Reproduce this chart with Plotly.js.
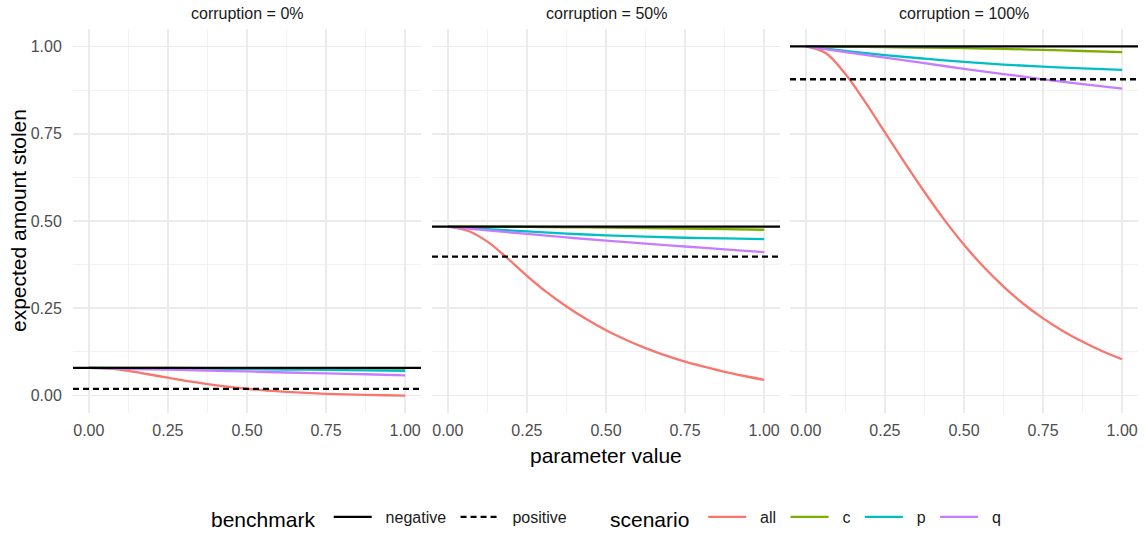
<!DOCTYPE html>
<html>
<head>
<meta charset="utf-8">
<script src="https://cdn.plot.ly/plotly-3.0.1.min.js"></script>
<style>html,body{margin:0;padding:0;background:#fff;}#chart{width:1145px;height:534px;}</style>
</head>
<body>
<div id="chart"></div>
<script>
// ---- data ----
const panels = ["corruption = 0%", "corruption = 50%", "corruption = 100%"];
const xCoarse = [0, 0.125, 0.25, 0.375, 0.5, 0.625, 0.75, 0.875, 1];
const xFine = [0, 0.0625, 0.125, 0.1875, 0.25, 0.3125, 0.375, 0.4375, 0.5, 0.5625, 0.625, 0.6875, 0.75, 0.8125, 0.875, 0.9375, 1];
const xRange = [-0.05, 1.05];

const negative = [0.079, 0.484, 1.0];
const positive = [0.019, 0.398, 0.906];

const all0   = [0.079, 0.077, 0.0705, 0.061, 0.051, 0.0415, 0.033, 0.0257, 0.0195, 0.0145, 0.0105, 0.0074, 0.005, 0.0033, 0.002, 0.0009, 0.0];
const all50  = [0.484, 0.472, 0.441, 0.394, 0.343, 0.296, 0.255, 0.219, 0.187, 0.160, 0.136, 0.115, 0.097, 0.082, 0.068, 0.056, 0.045];
const all100 = [1.0, 0.981, 0.921, 0.841, 0.754, 0.667, 0.583, 0.504, 0.432, 0.368, 0.312, 0.263, 0.221, 0.185, 0.154, 0.127, 0.104];

const c0   = [0.079, 0.079, 0.079, 0.0788, 0.0785, 0.0783, 0.078, 0.0778, 0.0775];
const c50  = [0.484, 0.484, 0.483, 0.482, 0.481, 0.480, 0.478, 0.477, 0.475];
const c100 = [1.0, 0.999, 0.998, 0.997, 0.995, 0.993, 0.990, 0.987, 0.984];

const p0   = [0.079, 0.0785, 0.078, 0.077, 0.0758, 0.0746, 0.0734, 0.0722, 0.071];
const p50  = [0.484, 0.477, 0.470, 0.464, 0.459, 0.455, 0.452, 0.450, 0.448];
const p100 = [1.0, 0.987, 0.975, 0.965, 0.956, 0.948, 0.942, 0.937, 0.933];

const q0   = [0.079, 0.0765, 0.074, 0.0715, 0.069, 0.066, 0.0635, 0.061, 0.058];
const q50  = [0.484, 0.473, 0.463, 0.453, 0.444, 0.435, 0.427, 0.419, 0.411];
const q100 = [1.0, 0.984, 0.968, 0.952, 0.936, 0.921, 0.906, 0.892, 0.879];

const xTickVals = [0, 0.25, 0.5, 0.75, 1];
const xTickText = ["0.00", "0.25", "0.50", "0.75", "1.00"];
const yTickVals = [0, 0.25, 0.5, 0.75, 1];
const yTickText = ["0.00", "0.25", "0.50", "0.75", "1.00"];

// ---- styling ----
const FONT = "Liberation Sans, Arial, Helvetica, sans-serif";
const colors = {all: "#F8766D", c: "#7CAE00", p: "#00BFC4", q: "#C77CFF"};
const scen = {
  all: {x: xFine, ys: [all0, all50, all100]},
  c: {x: xCoarse, ys: [c0, c50, c100]},
  p: {x: xCoarse, ys: [p0, p50, p100]},
  q: {x: xCoarse, ys: [q0, q50, q100]}
};
const NB = "\u00A0";

const W = 1145, H = 534;
const xDomPx = [[73, 421], [432, 780], [790, 1138]];
const yDomPx = [29, 413];

const traces = [];
for (let i = 0; i < 3; i++) {
  const xa = i === 0 ? "x" : "x" + (i + 1);
  const ya = i === 0 ? "y" : "y" + (i + 1);
  for (const k of ["all", "c", "p", "q"]) {
    traces.push({
      type: "scatter", mode: "lines", x: scen[k].x, y: scen[k].ys[i],
      xaxis: xa, yaxis: ya, name: NB + NB + k + NB, legend: "legend2", legendgroup: k,
      showlegend: i === 0, line: {color: colors[k], width: 2.3, shape: "spline", smoothing: 1},
      hoverinfo: "skip"
    });
  }
  traces.push({
    type: "scatter", mode: "lines", x: xRange, y: [negative[i], negative[i]],
    xaxis: xa, yaxis: ya, name: NB + NB + "negative" + NB, legend: "legend", legendgroup: "negative",
    showlegend: i === 0, line: {color: "#000000", width: 2.3}, hoverinfo: "skip"
  });
  traces.push({
    type: "scatter", mode: "lines", x: xRange, y: [positive[i], positive[i]],
    xaxis: xa, yaxis: ya, name: NB + NB + "positive" + NB, legend: "legend", legendgroup: "positive",
    showlegend: i === 0, line: {color: "#000000", width: 2.3, dash: "6px,4px"}, hoverinfo: "skip"
  });
}

const legendCommon = {
  orientation: "h", xanchor: "left", y: 1 - 519 / H, yanchor: "middle", itemwidth: 38,
  font: {size: 16, color: "#1A1A1A", family: FONT}, bgcolor: "rgba(0,0,0,0)", traceorder: "normal"
};

const layout = {
  width: W, height: H,
  margin: {l: 0, r: 0, t: 0, b: 0, autoexpand: false},
  paper_bgcolor: "#ffffff", plot_bgcolor: "#ffffff",
  font: {family: FONT, color: "#4D4D4D", size: 16},
  showlegend: true,
  legend: Object.assign({}, legendCommon, {
    x: 209 / W,
    title: {text: "benchmark" + NB, side: "left", font: {size: 21, color: "#000000", family: FONT}}
  }),
  legend2: Object.assign({}, legendCommon, {
    x: 608 / W,
    title: {text: "scenario" + NB, side: "left", font: {size: 21, color: "#000000", family: FONT}}
  }),
  annotations: [],
  hovermode: false
};

for (let i = 0; i < 3; i++) {
  const sfx = i === 0 ? "" : String(i + 1);
  layout["xaxis" + sfx] = {
    domain: [xDomPx[i][0] / W, xDomPx[i][1] / W], range: xRange, anchor: "y" + sfx,
    tickvals: xTickVals, ticktext: xTickText, ticks: "outside", ticklen: 3, tickcolor: "rgba(0,0,0,0)",
    showgrid: true, gridcolor: "#EBEBEB", gridwidth: 1.8, zeroline: false, showline: false,
    minor: {dtick: 0.125, tick0: 0.125, showgrid: true, gridcolor: "#F2F2F2", gridwidth: 1.1, ticks: ""},
    tickfont: {size: 16, color: "#4D4D4D", family: FONT}, fixedrange: true
  };
  layout["yaxis" + sfx] = {
    domain: [1 - yDomPx[1] / H, 1 - yDomPx[0] / H], range: [-0.05, 1.05], anchor: "x" + sfx,
    tickvals: yTickVals, ticktext: yTickText, ticks: i === 0 ? "outside" : "", ticklen: 7, tickcolor: "rgba(0,0,0,0)",
    showticklabels: i === 0,
    showgrid: true, gridcolor: "#EBEBEB", gridwidth: 1.8, zeroline: false, showline: false,
    minor: {dtick: 0.125, tick0: 0.125, showgrid: true, gridcolor: "#F2F2F2", gridwidth: 1.1, ticks: ""},
    tickfont: {size: 16, color: "#4D4D4D", family: FONT}, fixedrange: true
  };
  layout.annotations.push({
    text: panels[i], xref: "paper", yref: "paper",
    x: (xDomPx[i][0] + xDomPx[i][1]) / 2 / W, y: 1 - 14 / H, xanchor: "center", yanchor: "middle",
    showarrow: false, font: {size: 16, color: "#1A1A1A", family: FONT}
  });
}
layout.annotations.push({
  text: "parameter value", xref: "paper", yref: "paper",
  x: (73 + 1138) / 2 / W, y: 1 - 455 / H, xanchor: "center", yanchor: "middle",
  showarrow: false, font: {size: 21, color: "#000000", family: FONT}
});
layout.annotations.push({
  text: "expected amount stolen", xref: "paper", yref: "paper",
  x: 18 / W, y: 1 - 221 / H, xanchor: "center", yanchor: "middle", textangle: -90,
  showarrow: false, font: {size: 21, color: "#000000", family: FONT}
});

Plotly.newPlot("chart", traces, layout, {staticPlot: true, displayModeBar: false});
</script>
</body>
</html>
